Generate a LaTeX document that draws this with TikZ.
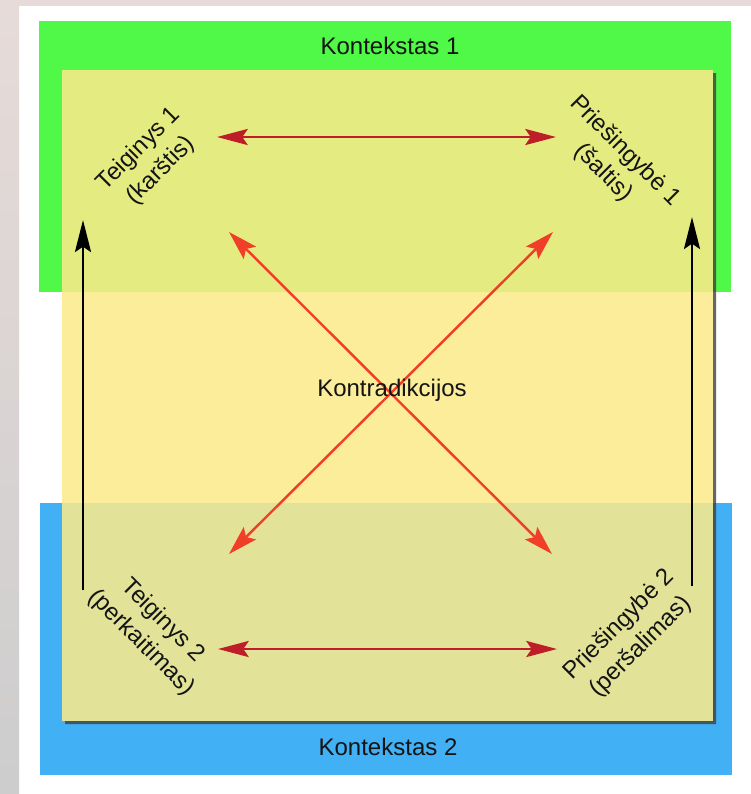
\documentclass[tikz,border=0pt]{standalone}
\usepackage{fontspec}
\setmainfont{Liberation Sans}
\usepackage{tikz}
\definecolor{pinkgr}{RGB}{230, 219, 217}
\definecolor{sidegr}{RGB}{205, 205, 205}
\definecolor{lgreen}{RGB}{80, 248, 72}
\definecolor{lblue}{RGB}{66, 176, 244}
\definecolor{pad}{RGB}{251, 235, 138}
\definecolor{dred}{RGB}{190, 30, 40}
\definecolor{ored}{RGB}{240, 62, 40}
\definecolor{ink}{RGB}{20, 20, 20}
\usetikzlibrary{arrows.meta}
\pgfdeclarelayer{bglayer}
\pgfdeclarelayer{edgelayer}
\pgfdeclarelayer{nodelayer}
\pgfsetlayers{bglayer,edgelayer,nodelayer,main}
\tikzstyle{txt}=[text=ink,align=center,inner sep=0pt,font=\fontsize{18}{23}\selectfont]
\tikzstyle{pairarrow}=[{Stealth[length=23pt,width=12pt,inset=4pt]}-{Stealth[length=23pt,width=12pt,inset=4pt]},line width=2.2pt,draw=dred]
\tikzstyle{crossarrow}=[{Stealth[length=22pt,width=13pt,inset=4pt]}-{Stealth[length=22pt,width=13pt,inset=4pt]},line width=1.8pt,draw=ored]
\tikzstyle{uparrow}=[-{Stealth[length=24pt,width=12pt,inset=4pt]},line width=2.2pt,draw=black]

\begin{document}
\begin{tikzpicture}[x=0.75pt,y=-0.75pt]
        \useasboundingbox (0,0) rectangle (751,794);
        \begin{pgfonlayer}{bglayer}
            \fill[white] (0,0) rectangle (751,794);
            \fill[pinkgr] (0,0) rectangle (751,6);
            \shade[top color=pinkgr,bottom color=sidegr] (0,6) rectangle (19,794);
            \fill[lgreen] (39,21) rectangle (731,292);
            \fill[lblue] (40,503) rectangle (732,775);
            \fill[black!75,opacity=0.8] (713,73) -- (716,73) -- (716,724) -- (65,724) -- (65,721) -- (713,721) -- cycle;
            \fill[pad,opacity=0.865] (62,70) rectangle (713,721);
        \end{pgfonlayer}

        \begin{pgfonlayer}{nodelayer}
            \node [style = txt] (ctx1) at (390, 46) {Kontekstas 1};
            \node [style = txt] (ctx2) at (388, 747) {Kontekstas 2};
            \node [style = txt] (contra) at (392, 390) {Kontradikcijos};
            \node [style = txt, rotate=45] (thesis1) at (150, 160) {Teiginys 1\\(karštis)};
            \node [style = txt, rotate=-45] (anti1) at (614, 162) {Priešingybė 1\\(šaltis)};
            \node [style = txt, rotate=-45] (thesis2) at (152, 632) {Teiginys 2\\(perkaitimas)};
            \node [style = txt, rotate=45] (anti2) at (630, 636) {Priešingybė 2\\(peršalimas)};
            \coordinate (top1) at (217, 137);
            \coordinate (top2) at (556, 137);
            \coordinate (bot1) at (218, 649);
            \coordinate (bot2) at (557, 649);
            \coordinate (dtl) at (229, 232);
            \coordinate (dbr) at (552, 554);
            \coordinate (dtr) at (553, 232);
            \coordinate (dbl) at (229, 554);
            \coordinate (lbot) at (83, 590);
            \coordinate (ltop) at (83, 220);
            \coordinate (rbot) at (692, 586);
            \coordinate (rtop) at (692, 217);
        \end{pgfonlayer}

        \begin{pgfonlayer}{edgelayer}
            \draw [style = pairarrow] (top1) to (top2);
            \draw [style = pairarrow] (bot1) to (bot2);
            \draw [style = crossarrow] (dtl) to (dbr);
            \draw [style = crossarrow] (dtr) to (dbl);
            \draw [style = uparrow] (lbot) to (ltop);
            \draw [style = uparrow] (rbot) to (rtop);
        \end{pgfonlayer}
    \end{tikzpicture}
\end{document}
